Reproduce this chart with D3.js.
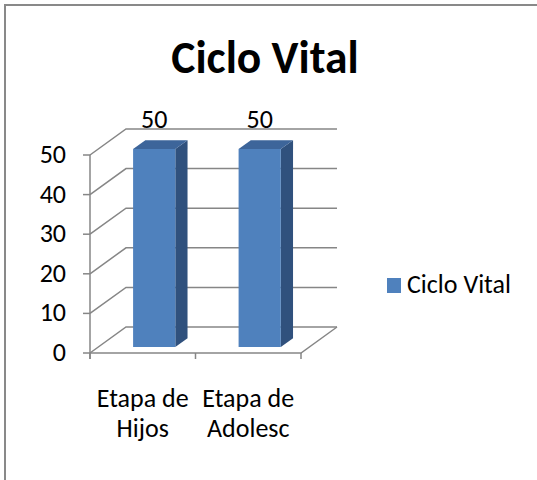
<!DOCTYPE html>
<html>
<head>
<meta charset="utf-8">
<script src="https://cdn.jsdelivr.net/npm/d3@7"></script>
<style>
  html, body { margin: 0; padding: 0; background: #fff; }
  svg { display: block; font-family: Carlito, Lato, sans-serif; }
</style>
</head>
<body>
<svg id="svg" width="537" height="480"></svg>
<script>
// Chart data
var title = "Ciclo Vital";
var seriesName = "Ciclo Vital";
var categories = ["Etapa de Hijos", "Etapa de Adolesc"];
var categoryLines = [["Etapa de", "Hijos"], ["Etapa de", "Adolesc"]];
var values = [50, 50];
var yTicks = [0, 10, 20, 30, 40, 50];

var svg = d3.select("#svg");

// Depth offset of the back wall (3D look)
var DX = 36, DY = -26;
var labelSize = 26;

var x = d3.scaleBand().domain(categories).range([90, 301]);
var y = d3.scaleLinear().domain([0, 50]).range([353, 155]);

// Project a point at depth fraction f (0 = front, 1 = back wall)
function proj(px, v, f)
{
    return [px + f * DX, y(v) + f * DY];
}

// Outer frame, only top and left edges are visible
svg.append("rect")
    .attr("x", 5).attr("y", 5)
    .attr("width", 700).attr("height", 700)
    .attr("fill", "none")
    .attr("stroke", "#898989")
    .attr("stroke-width", 2);

// Title
svg.append("text")
    .attr("x", 265).attr("y", 73)
    .attr("text-anchor", "middle")
    .attr("font-size", 45.5)
    .attr("font-weight", "bold")
    .attr("fill", "#000")
    .text(title);

var gridColor = "#868686";
var x0 = x.range()[0], x1 = x.range()[1];

// Grid lines: side wall diagonal + back wall horizontal
svg.append("g").selectAll("path")
    .data(yTicks)
    .join("path")
    .attr("d", function(v) {
        var a = proj(x0, v, 0), b = proj(x0, v, 1), c = proj(x1, v, 1);
        return "M" + a + "L" + b + "L" + c;
    })
    .attr("fill", "none")
    .attr("stroke", gridColor)
    .attr("stroke-width", 1.5);

// Floor front edge and right edge
var f0 = proj(x0, 0, 0), f1 = proj(x1, 0, 0), f2 = proj(x1, 0, 1);
svg.append("path")
    .attr("d", "M" + f0 + "L" + f1 + "L" + f2)
    .attr("fill", "none")
    .attr("stroke", gridColor)
    .attr("stroke-width", 1.5);

// Value axis line and ticks
svg.append("line")
    .attr("x1", x0).attr("x2", x0)
    .attr("y1", y(50)).attr("y2", y(0) + 6)
    .attr("stroke", gridColor).attr("stroke-width", 1.5);

svg.append("g").selectAll("line")
    .data(yTicks)
    .join("line")
    .attr("x1", x0 - 7).attr("x2", x0)
    .attr("y1", d => y(d)).attr("y2", d => y(d))
    .attr("stroke", gridColor).attr("stroke-width", 1.5);

svg.append("g").selectAll("text")
    .data(yTicks)
    .join("text")
    .attr("x", 66)
    .attr("y", d => y(d) + 8)
    .attr("text-anchor", "end")
    .attr("font-size", labelSize)
    .attr("fill", "#000")
    .text(d => d);

// Category axis ticks
var catTicks = [x0].concat(categories.map(c => x(c) + x.bandwidth()));
svg.append("g").selectAll("line")
    .data(catTicks)
    .join("line")
    .attr("x1", d => d).attr("x2", d => d)
    .attr("y1", y(0)).attr("y2", y(0) + 6)
    .attr("stroke", gridColor).attr("stroke-width", 1.5);

// Category labels (two lines each)
var catLabel = svg.append("g").selectAll("text")
    .data(categories)
    .join("text")
    .attr("text-anchor", "middle")
    .attr("font-size", labelSize)
    .attr("fill", "#000");
catLabel.selectAll("tspan")
    .data((d, i) => categoryLines[i].map(t => ({ t: t, c: d })))
    .join("tspan")
    .attr("x", d => x(d.c) + x.bandwidth() / 2)
    .attr("y", (d, i) => 407 + i * 30)
    .text(d => d.t);

// 3D bars
var barStart = 0.33, barWidth = 0.40, depthFront = 0.23, depthBack = 0.57;
var frontColor = "#4f81bd", sideColor = "#30517d", topColor = "#3d659a";

var bars = svg.append("g").selectAll("g")
    .data(categories.map((c, i) => ({ c: c, v: values[i] })))
    .join("g");

function poly(pts)
{
    return "M" + pts.join("L") + "Z";
}

bars.each(function(d) {
    var g = d3.select(this);
    var bx0 = x(d.c) + x.bandwidth() * barStart;
    var bx1 = bx0 + x.bandwidth() * barWidth;
    var a = proj(bx0, 0, depthFront), b = proj(bx1, 0, depthFront);
    var c = proj(bx1, d.v, depthFront), e = proj(bx0, d.v, depthFront);
    var b2 = proj(bx1, 0, depthBack), c2 = proj(bx1, d.v, depthBack), e2 = proj(bx0, d.v, depthBack);

    g.append("path").attr("d", poly([b, b2, c2, c])).attr("fill", sideColor);
    g.append("path").attr("d", poly([e, c, c2, e2])).attr("fill", topColor);
    g.append("path").attr("d", poly([a, b, c, e])).attr("fill", frontColor);

    g.append("text")
        .attr("x", (a[0] + b[0]) / 2)
        .attr("y", e[1] - 21)
        .attr("text-anchor", "middle")
        .attr("font-size", labelSize)
        .attr("fill", "#000")
        .text(d.v);
});

// Legend
var legend = svg.append("g").attr("transform", "translate(387,278)");
legend.append("rect")
    .attr("width", 14).attr("height", 15)
    .attr("fill", frontColor);
legend.append("text")
    .attr("x", 20).attr("y", 15)
    .attr("font-size", labelSize)
    .attr("fill", "#000")
    .text(seriesName);
</script>
</body>
</html>
